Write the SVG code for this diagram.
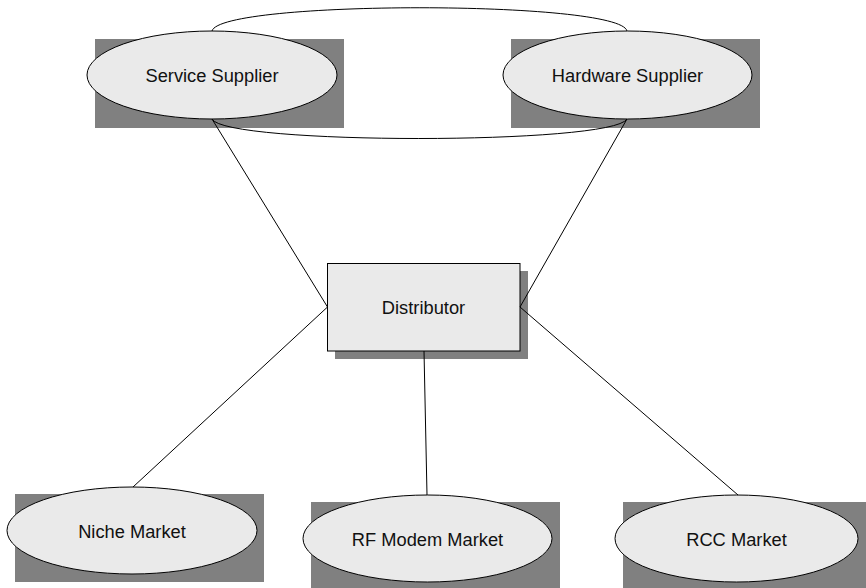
<svg xmlns="http://www.w3.org/2000/svg" width="866" height="588" viewBox="0 0 866 588">
  <style>
    .shadow { fill: #808080; stroke: none; }
    .shape { fill: #eaeaea; stroke: #000; stroke-width: 1; }
    .label { font-family: "Liberation Sans", Arial, sans-serif; font-size: 18.3px; fill: #111; text-anchor: middle; }
    .link { fill: none; stroke: #000; stroke-width: 1; }
  </style>
  <rect width="866" height="588" fill="#fff"/>

  <g id="service-supplier">
    <rect class="shadow" x="95" y="39" width="249" height="89"/>
    <ellipse class="shape" cx="212" cy="75" rx="125" ry="44"/>
    <text class="label" x="212" y="82">Service Supplier</text>
  </g>

  <g id="hardware-supplier">
    <rect class="shadow" x="511" y="39" width="249" height="89"/>
    <ellipse class="shape" cx="627.5" cy="75" rx="124.5" ry="44"/>
    <text class="label" x="627.5" y="82">Hardware Supplier</text>
  </g>

  <g id="distributor">
    <rect class="shadow" x="335" y="271" width="193" height="88"/>
    <rect class="shape" x="327.5" y="263.5" width="192.5" height="87.5"/>
    <text class="label" x="423.5" y="314">Distributor</text>
  </g>

  <g id="niche-market">
    <rect class="shadow" x="15" y="494" width="249" height="88"/>
    <ellipse class="shape" cx="132" cy="530.5" rx="125" ry="43.5"/>
    <text class="label" x="132" y="537.5">Niche Market</text>
  </g>

  <g id="rf-modem-market">
    <rect class="shadow" x="311" y="502" width="249" height="88"/>
    <ellipse class="shape" cx="427.5" cy="538.5" rx="124.5" ry="43.5"/>
    <text class="label" x="427.5" y="545.5">RF Modem Market</text>
  </g>

  <g id="rcc-market">
    <rect class="shadow" x="623" y="502" width="243" height="88"/>
    <ellipse class="shape" cx="736.5" cy="538.5" rx="121.5" ry="43.5"/>
    <text class="label" x="736.5" y="545.5">RCC Market</text>
  </g>

  <g id="connectors">
    <path class="link" d="M212,31 C220,0 620,0 627,31"/>
    <path class="link" d="M212,119 C225,145 612,145 627,119"/>
    <line class="link" x1="212" y1="119" x2="327.5" y2="307"/>
    <line class="link" x1="627" y1="119" x2="520" y2="307"/>
    <line class="link" x1="327.5" y1="307" x2="133" y2="487"/>
    <line class="link" x1="424" y1="351" x2="427" y2="495"/>
    <line class="link" x1="520" y1="307" x2="738" y2="495"/>
  </g>
</svg>
